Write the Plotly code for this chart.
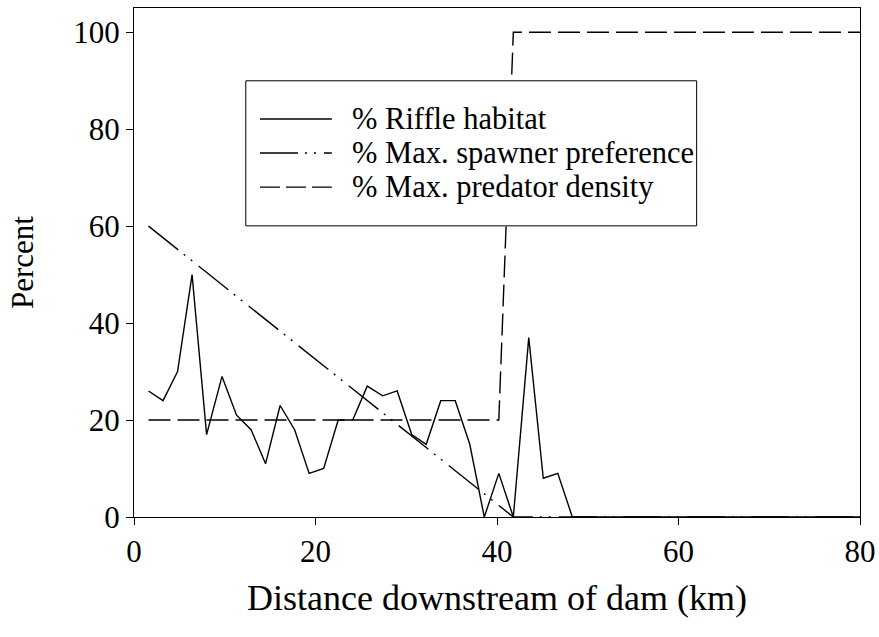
import plotly.graph_objects as go

# Sampling points along the river, one per mile (km)
distance_km = [1.6, 3.2, 4.8, 6.4, 8.0, 9.7, 11.3, 12.9, 14.5, 16.1,
               17.7, 19.3, 20.9, 22.5, 24.1, 25.7, 27.4, 29.0, 30.6, 32.2,
               33.8, 35.4, 37.0, 38.6, 40.2, 41.8, 43.5, 45.1, 46.7, 48.3,
               49.9, 51.5, 53.1, 54.7, 56.3, 57.9, 59.5, 61.2, 62.8, 64.4,
               66.0, 67.6, 69.2, 70.8, 72.4, 74.0, 75.6, 77.2, 78.9, 80.0]
riffle_pct = [26, 24, 30, 50, 17, 29, 21, 18, 11, 23,
              18, 9, 10, 20, 20, 27, 25, 26, 17, 15,
              24, 24, 15, 0, 9, 0, 37, 8, 9, 0,
              0, 0, 0, 0, 0, 0, 0, 0, 0, 0,
              0, 0, 0, 0, 0, 0, 0, 0, 0, 0]

# Spawner preference declines linearly to zero
spawner_km = [1.6, 41.8, 80.0]
spawner_pct = [60, 0, 0]

# Predator density steps up below the dam reach
predator_km = [1.6, 40.2, 41.8, 80.0]
predator_pct = [20, 20, 100, 100]

x_ticks = [0, 20, 40, 60, 80]
y_ticks = [0, 20, 40, 60, 80, 100]

legend_names = ["% Riffle habitat", "% Max. spawner preference", "% Max. predator density"]

FONT = "Liberation Serif, Times New Roman, serif"
SPAWNER_DASH = "38px,7px,2px,7px,2px,8px"
PREDATOR_DASH = "22px,7px"

fig = go.Figure()
fig.add_trace(go.Scatter(x=distance_km, y=riffle_pct, mode="lines",
                         line=dict(color="black", width=1.4),
                         name=legend_names[0], showlegend=False))
fig.add_trace(go.Scatter(x=spawner_km, y=spawner_pct, mode="lines",
                         line=dict(color="black", width=1.4, dash=SPAWNER_DASH),
                         name=legend_names[1], showlegend=False))
fig.add_trace(go.Scatter(x=predator_km, y=predator_pct, mode="lines",
                         line=dict(color="black", width=1.4, dash=PREDATOR_DASH),
                         name=legend_names[2], showlegend=False))

# Boxed key drawn inside the plot area
key_x0, key_x1 = 0.154, 0.775
key_y0, key_y1 = 0.572, 0.857
fig.add_shape(type="rect", xref="paper", yref="paper",
              x0=key_x0, x1=key_x1, y0=key_y0, y1=key_y1,
              line=dict(color="black", width=1), fillcolor="white", layer="above")
row_y = [0.782, 0.715, 0.648]
dashes = ["solid", SPAWNER_DASH, "20px,6px"]
for yy, dsh, name in zip(row_y, dashes, legend_names):
    fig.add_shape(type="line", xref="paper", yref="paper",
                  x0=0.1735, x1=0.2725, y0=yy, y1=yy,
                  line=dict(color="black", width=1.4, dash=dsh), layer="above")
    fig.add_annotation(xref="paper", yref="paper", x=0.299, y=yy,
                       text=name, showarrow=False, xanchor="left", yanchor="middle",
                       borderpad=0,
                       font=dict(family=FONT, size=30.5, color="black"))

axis_common = dict(showline=True, linecolor="black", linewidth=1, mirror=True,
                   ticks="outside", ticklen=7, tickcolor="black", tickwidth=1,
                   showgrid=False, zeroline=False,
                   tickfont=dict(family=FONT, size=31, color="black"))

fig.update_layout(
    width=879, height=637,
    margin=dict(l=134, r=19, t=8, b=120),
    paper_bgcolor="white", plot_bgcolor="white",
    xaxis=dict(range=[0, 80], tickvals=x_ticks, **axis_common,
               title=dict(text="Distance downstream of dam (km)", standoff=16,
                          font=dict(family=FONT, size=36, color="black"))),
    yaxis=dict(range=[0, 105], tickvals=y_ticks, **axis_common,
               title=dict(text="Percent", standoff=30,
                          font=dict(family=FONT, size=31, color="black"))),
)
fig.update_xaxes(automargin=False)
fig.update_yaxes(automargin=False)

fig.write_html("out.html")
